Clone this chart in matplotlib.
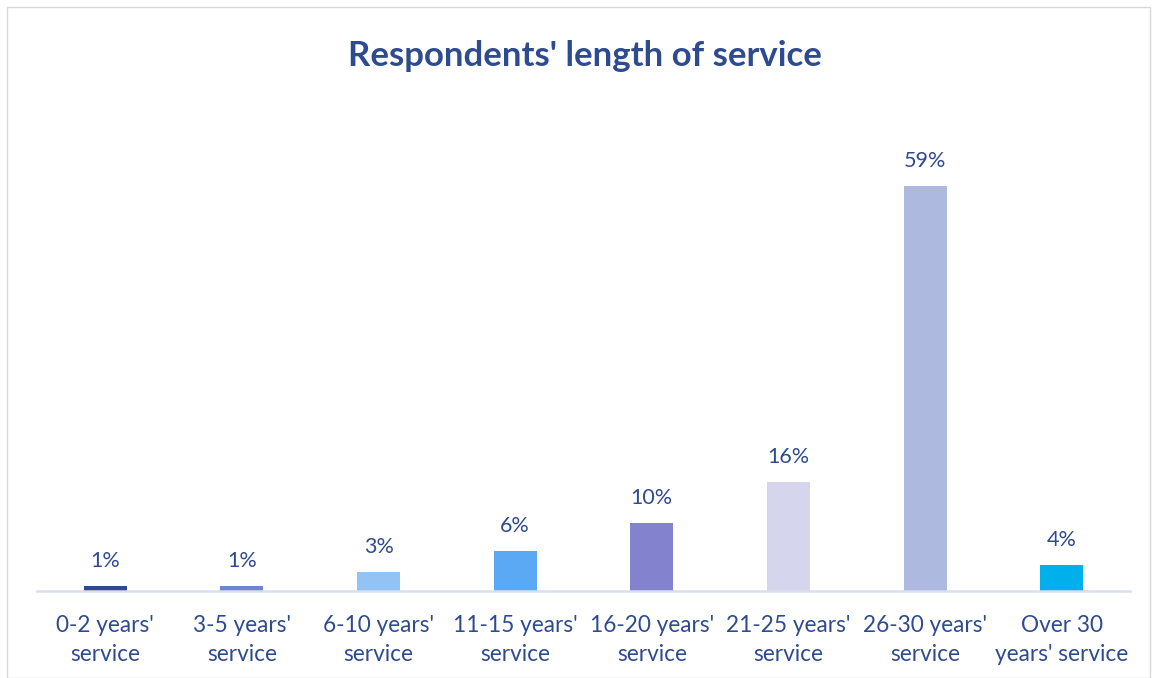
import matplotlib.pyplot as plt
from matplotlib.patches import Rectangle

categories = ["0-2 years'\nservice", "3-5 years'\nservice", "6-10 years'\nservice",
              "11-15 years'\nservice", "16-20 years'\nservice", "21-25 years'\nservice",
              "26-30 years'\nservice", "Over 30\nyears' service"]
values = [0.7, 0.7, 2.8, 5.8, 9.9, 15.9, 59.0, 3.8]
colors = ["#2E4A94", "#6A86D4", "#93C3F5", "#5BA8F5", "#8282CF", "#D5D6EE", "#ADB9DE", "#00B0EA"]

text_col = "#2F4B8F"
plt.rcParams['font.family'] = ['Lato', 'DejaVu Sans']

fig = plt.figure(figsize=(11.52, 6.78), dpi=100)
ax = fig.add_axes([37/1152, 1 - 591/678, (1130-37)/1152, (591-120)/678])

x = range(len(categories))
bars = ax.bar(x, values, width=0.315, color=colors)
for xi, v in zip(x, values):
    ax.text(xi, v + 2.2, f"{v:.0f}%", ha='center', va='bottom', fontsize=15.5, color=text_col)

ax.set_xlim(-0.5, len(categories) - 0.5)
ax.set_ylim(0, (591-120)/6.86)
ax.set_xticks(list(x))
ax.set_xticklabels(categories, fontsize=16.3, color=text_col, linespacing=1.5)
ax.tick_params(axis='x', length=0, pad=17)
ax.set_yticks([])
for s in ['top', 'right', 'left']:
    ax.spines[s].set_visible(False)
ax.spines['bottom'].set_color("#D9DEF0")
ax.spines['bottom'].set_linewidth(1.8)

fig.text(0.508, 1 - 56/678, "Respondents' length of service", ha='center', va='center',
         fontsize=25, fontweight='bold', color=text_col)

fig.patches.append(Rectangle((7/1152, 0), 1 - 7/1152 - 0.002, 1 - 7/678, transform=fig.transFigure,
                             fill=False, edgecolor="#D9D9D9", linewidth=1.0))

fig.savefig("out.png", dpi=100)
